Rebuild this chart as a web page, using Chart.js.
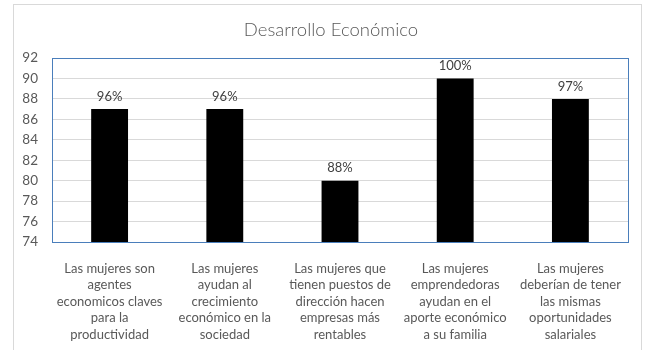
<!DOCTYPE html>
<html lang="es">
<head>
    <meta charset="UTF-8">
    <title>Desarrollo Económico</title>
    <script src="https://cdn.jsdelivr.net/npm/chart.js@4"></script>
    <style>
        html, body { margin: 0; padding: 0; background: #fff; }
        #wrap { width: 648px; height: 350px; position: relative; }
    </style>
</head>
<body>
    <div id="wrap"><canvas id="chart" width="648" height="350"></canvas></div>

    <script>
        // data
        const chartTitle = "Desarrollo Económico";
        const categories = [
            ["Las mujeres son", "agentes", "economicos claves", "para la", "productividad"],
            ["Las mujeres", "ayudan al", "crecimiento", "económico en la", "sociedad"],
            ["Las mujeres que", "tienen puestos de", "dirección hacen", "empresas más", "rentables"],
            ["Las mujeres", "emprendedoras", "ayudan en el", "aporte económico", "a su familia"],
            ["Las mujeres", "deberían de tener", "las mismas", "oportunidades", "salariales"]
        ];
        const values = [87, 87, 80, 90, 88];
        const pctLabels = ["96%", "96%", "88%", "100%", "97%"];
        const yTicks = [74, 76, 78, 80, 82, 84, 86, 88, 90, 92];

        const textGray = "#595959";

        // outer frame, title and blue plot border
        const framePlugin = {
            id: "frame",
            beforeDraw(chart) {
                const ctx = chart.ctx;
                ctx.save();
                ctx.strokeStyle = "#d9d9d9";
                ctx.lineWidth = 1;
                ctx.strokeRect(13.5, 4.5, 628, 400);
                // title is centred on the frame, not on the chart area
                ctx.fillStyle = textGray;
                ctx.font = "300 18.5px Lato";
                ctx.textAlign = "center";
                ctx.textBaseline = "middle";
                ctx.fillText(chartTitle, 331, 30);
                ctx.restore();
            },
            afterDraw(chart) {
                const a = chart.chartArea;
                const ctx = chart.ctx;
                ctx.save();
                ctx.strokeStyle = "#4a7ebb";
                ctx.lineWidth = 1;
                ctx.strokeRect(Math.round(a.left) + 0.5, Math.round(a.top) + 0.5,
                    Math.round(a.right - a.left), Math.round(a.bottom - a.top));
                ctx.restore();
            }
        };

        // percentage labels above the bars
        const pctPlugin = {
            id: "pct",
            afterDatasetsDraw(chart) {
                const ctx = chart.ctx;
                const meta = chart.getDatasetMeta(0);
                ctx.save();
                ctx.fillStyle = "#404040";
                ctx.font = "13px Lato";
                ctx.textAlign = "center";
                ctx.textBaseline = "bottom";
                meta.data.forEach((bar, i) => {
                    ctx.fillText(pctLabels[i], bar.x, bar.y - 6);
                });
                ctx.restore();
            }
        };

        new Chart(document.getElementById("chart"), {
            type: "bar",
            data: {
                labels: categories,
                datasets: [{
                    data: values,
                    backgroundColor: "#000000",
                    borderWidth: 0,
                    categoryPercentage: 1,
                    barPercentage: 0.32
                }]
            },
            options: {
                responsive: false,
                animation: false,
                layout: { padding: { left: 0, right: 20, top: 58, bottom: 0 } },
                plugins: {
                    legend: { display: false },
                    tooltip: { enabled: false },
                    title: { display: false }
                },
                scales: {
                    x: {
                        grid: { display: false, drawTicks: false },
                        border: { display: false },
                        ticks: {
                            color: textGray,
                            font: { family: "Lato", size: 13, lineHeight: 1.28 },
                            padding: 18,
                            maxRotation: 0,
                            autoSkip: false
                        },
                        afterFit(scale) { scale.height = 108; }
                    },
                    y: {
                        min: 74,
                        max: 92,
                        afterBuildTicks(scale) {
                            scale.ticks = yTicks.map(v => ({ value: v }));
                        },
                        grid: { color: "#d9d9d9", drawTicks: false },
                        border: { display: false },
                        ticks: {
                            color: textGray,
                            font: { family: "Lato", size: 13.5 },
                            padding: 14
                        },
                        afterFit(scale) { scale.width = 52; }
                    }
                }
            },
            plugins: [framePlugin, pctPlugin]
        });
    </script>
</body>
</html>
